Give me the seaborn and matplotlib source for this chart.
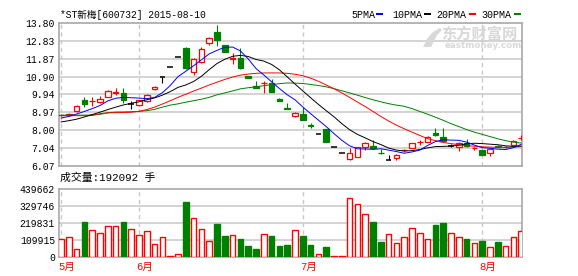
import matplotlib
matplotlib.use("Agg")
import matplotlib.pyplot as plt
from matplotlib.patches import Rectangle, Polygon
import numpy as np
import pandas as pd
import seaborn as sns

sns.set_style("white")
plt.rcParams['font.family'] = ['Liberation Mono', 'Noto Sans CJK SC', 'DejaVu Sans']

# ---------------- data ----------------
opens = [8.80, 8.82, 9.02, 9.62, 9.57, 9.51, 9.80, 10.04, 10.02, 9.42,
         9.37, 9.60, 10.22, 10.89, 11.42, 11.94, 12.43, 11.16, 11.69, 12.74,
         13.34, 12.59, 11.87, 11.89, 10.93, 10.42, 10.55, 10.57, 9.71, 9.19,
         8.75, 8.88, 8.27, 7.80, 8.08, 7.10, 6.78, 6.45, 6.56, 7.09,
         7.16, 6.78, 6.41, 6.49, 6.91, 7.07, 7.35, 7.39, 7.88, 7.66,
         7.17, 7.12, 7.34, 7.02, 6.94, 6.76, 7.17, 7.09, 7.21, 7.60]
highs = [8.90, 8.92, 9.35, 9.80, 9.80, 9.86, 10.20, 10.26, 10.31, 9.60,
         9.64, 9.95, 10.38, 10.89, 11.42, 11.94, 12.48, 11.90, 12.50, 13.05,
         13.68, 12.62, 12.20, 12.47, 10.95, 10.65, 10.65, 10.78, 9.73, 9.48,
         8.98, 9.24, 8.39, 7.80, 8.08, 7.10, 6.78, 7.07, 7.12, 7.37,
         7.48, 6.98, 6.67, 6.70, 7.00, 7.32, 7.45, 7.68, 8.12, 8.12,
         7.25, 7.36, 7.54, 7.08, 6.96, 7.01, 7.20, 7.16, 7.45, 7.72]
lows = [8.75, 8.76, 8.98, 9.26, 9.30, 9.48, 9.78, 9.93, 9.50, 9.15,
        9.30, 9.55, 10.18, 10.57, 11.42, 11.94, 11.32, 11.00, 11.65, 12.60,
        12.54, 12.22, 11.60, 11.30, 10.82, 10.30, 9.99, 10.06, 9.57, 9.15,
        8.72, 8.53, 8.12, 7.80, 7.39, 7.10, 6.78, 6.38, 6.54, 6.94,
        7.01, 6.74, 6.41, 6.38, 6.85, 7.05, 7.22, 7.37, 7.70, 7.40,
        7.10, 6.89, 7.12, 6.95, 6.65, 6.61, 7.08, 7.02, 7.19, 7.50]
closes = [8.84, 8.86, 9.33, 9.44, 9.59, 9.70, 10.11, 10.06, 9.62, 9.42,
          9.62, 9.93, 10.35, 10.89, 11.42, 11.94, 11.36, 11.87, 12.42, 13.01,
          12.88, 12.25, 11.89, 11.36, 10.84, 10.31, 10.57, 10.08, 9.59, 9.15,
          8.94, 8.53, 8.24, 7.80, 7.39, 7.10, 6.78, 6.79, 7.10, 7.30,
          7.03, 6.76, 6.41, 6.67, 6.92, 7.30, 7.36, 7.66, 7.72, 7.43,
          7.17, 7.34, 7.17, 7.03, 6.67, 6.99, 7.10, 7.10, 7.43, 7.61]
volumes = [113500, 126500, 48000, 226000, 172000, 152000, 198000, 198000, 226000, 178000,
           139000, 165000, 81000, 126500, 4500, 15000, 357000, 250000, 180000, 100000,
           213000, 135000, 139000, 115000, 70000, 50000, 146000, 135000, 70000, 76000,
           172000, 135000, 76000, 15000, 63000, 3000, 3000, 381000, 342000, 276000,
           226000, 96000, 146000, 87000, 126500, 185000, 152000, 113500, 207000, 220000,
           152000, 126500, 115000, 87000, 102000, 61000, 94000, 68000, 126500, 166000]
ma5 = [8.66, 8.75, 8.88, 9.02, 9.17, 9.34, 9.59, 9.73, 9.78, 9.76,
       9.74, 9.71, 9.78, 10.03, 10.42, 10.90, 11.19, 11.49, 11.81, 12.13,
       12.32, 12.49, 12.50, 12.29, 11.86, 11.34, 10.99, 10.62, 10.26, 9.92,
       9.65, 9.26, 8.90, 8.55, 8.20, 7.82, 7.46, 7.16, 7.00, 6.99,
       6.97, 7.00, 6.93, 6.85, 6.76, 6.83, 6.93, 7.18, 7.39, 7.49,
       7.47, 7.46, 7.36, 7.20, 7.06, 7.03, 6.98, 6.96, 7.06, 7.24]
ma10 = [8.45, 8.52, 8.60, 8.72, 8.85, 8.98, 9.12, 9.25, 9.37, 9.46,
        9.54, 9.65, 9.75, 9.90, 10.09, 10.32, 10.45, 10.64, 10.92, 11.28,
        11.61, 11.84, 12.00, 12.05, 11.99, 11.83, 11.74, 11.56, 11.27, 10.89,
        10.50, 10.13, 9.76, 9.40, 9.06, 8.73, 8.36, 8.03, 7.78, 7.59,
        7.39, 7.23, 7.04, 6.93, 6.88, 6.90, 6.96, 7.05, 7.12, 7.13,
        7.15, 7.19, 7.27, 7.30, 7.28, 7.25, 7.22, 7.16, 7.13, 7.15]
ma20 = [8.79, 8.79, 8.79, 8.79, 8.80, 8.90, 8.94, 8.95, 8.96, 8.98,
        9.03, 9.12, 9.25, 9.42, 9.60, 9.78, 9.95, 10.12, 10.28, 10.45,
        10.60, 10.75, 10.88, 10.98, 11.04, 11.08, 11.10, 11.10, 11.10, 11.08,
        11.03, 10.95, 10.82, 10.65, 10.45, 10.25, 10.02, 9.78, 9.53, 9.28,
        9.02, 8.75, 8.50, 8.28, 8.08, 7.90, 7.72, 7.55, 7.44, 7.34,
        7.28, 7.22, 7.17, 7.14, 7.11, 7.09, 7.08, 7.08, 7.09, 7.12]
ma30 = [8.82, 8.82, 8.82, 8.82, 8.83, 8.86, 8.95, 8.98, 8.99, 9.00,
        9.02, 9.06, 9.13, 9.25, 9.36, 9.43, 9.52, 9.60, 9.68, 9.78,
        9.92, 10.02, 10.13, 10.24, 10.30, 10.35, 10.41, 10.47, 10.52, 10.56,
        10.55, 10.53, 10.48, 10.42, 10.35, 10.25, 10.14, 10.02, 9.90, 9.77,
        9.65, 9.54, 9.44, 9.36, 9.30, 9.17, 9.02, 8.87, 8.71, 8.54,
        8.36, 8.20, 8.04, 7.90, 7.78, 7.66, 7.54, 7.44, 7.36, 7.31]
month_labels = ['5月', '6月', '7月', '8月']
month_pos = [0, 10, 31, 54]
price_ticks = [6.07, 7.04, 8.00, 8.97, 9.94, 10.90, 11.87, 12.83, 13.80]
price_labels = ['6.07', '7.04', '8.00', '8.97', '9.94', '10.90', '11.87', '12.83', '13.80']
vol_ticks = [0, 109915, 219831, 329746, 439662]
vol_labels = ['0', '109915', '219831', '329746', '439662']
title_text = '*ST新梅[600732] 2015-08-10'
vol_text = '成交量:192092 手'
ma_names = ['5PMA', '10PMA', '20PMA', '30PMA']
ma_colors = ['#0000ff', '#000000', '#ff0000', '#008000']

RED, GREEN, BLACK = '#ff0000', '#008000', '#000000'
GRID = '#c8c8c8'
SPINE = '#a8a8a8'
WM = '#d8d8d8'

# ---------------- figure ----------------
W, H = 578, 276
fig = plt.figure(figsize=(W / 100, H / 100), dpi=100)
fig.patch.set_facecolor('white')


def rect(l, t, r, b):
    return [l / W, 1 - b / H, (r - l) / W, (b - t) / H]


axp = fig.add_axes(rect(58.5, 23, 522, 166))
axv = fig.add_axes(rect(58.5, 189.3, 522, 256.7))

n = len(closes)
x = np.arange(n)
o = np.array(opens); h = np.array(highs); l = np.array(lows); c = np.array(closes)
up = c > o
dn = c < o
eq = c == o
cols = np.where(up, RED, np.where(dn, GREEN, BLACK))

for ax in (axp, axv):
    ax.set_xlim(-0.32, 59.1)
    ax.set_xticks([])
    for p in month_pos:
        ax.axvline(p, color=GRID, lw=1.0, ls=(0, (3, 2.5)), zorder=1)
    for s in ax.spines.values():
        s.set_color(SPINE)
        s.set_linewidth(1.2)
    ax.tick_params(axis='y', length=0, pad=2.5, labelsize=7, labelcolor='black')

# price panel
axp.set_ylim(6.07, 13.80)
axp.set_yticks(price_ticks)
axp.set_yticklabels(price_labels)
for t in price_ticks[1:-1]:
    axp.axhline(t, color=GRID, lw=1.1, zorder=1)

BW = 0.70
axp.vlines(x, l, h, colors=cols, lw=0.8, zorder=3)
axp.bar(x[up], (c - o)[up], bottom=o[up], width=BW, facecolor='white',
        edgecolor=RED, lw=0.9, zorder=4)
axp.bar(x[dn], (o - c)[dn], bottom=c[dn], width=BW, facecolor=GREEN,
        edgecolor=GREEN, lw=0.9, zorder=4)
axp.hlines(o[eq], x[eq] - BW / 2, x[eq] + BW / 2, colors=BLACK, lw=1.1, zorder=4)

ma_df = pd.DataFrame({'idx': np.tile(x, 4),
                      'value': ma5 + ma10 + ma20 + ma30,
                      'ma': np.repeat(ma_names, n)})
sns.lineplot(data=ma_df, x='idx', y='value', hue='ma', hue_order=ma_names[::-1],
             palette=dict(zip(ma_names, ma_colors)), lw=0.7, legend=False,
             ax=axp, zorder=5)
axp.set_xlabel('')
axp.set_ylabel('')
axp.set_xlim(-0.32, 59.1)

# volume panel
vol = np.array(volumes)
vup = c >= o
axv.set_ylim(0, 439662)
axv.set_yticks(vol_ticks)
axv.set_yticklabels(vol_labels)
for t in vol_ticks[1:-1]:
    axv.axhline(t, color=GRID, lw=1.1, zorder=1)
axv.bar(x[vup], vol[vup], width=0.72, facecolor='white', edgecolor=RED, lw=1.0, zorder=3)
axv.bar(x[~vup], vol[~vup], width=0.72, facecolor=GREEN, edgecolor=GREEN, lw=1.0, zorder=3)

for lab, p in zip(month_labels, month_pos):
    axv.text(p - 0.38, -0.15, lab, transform=axv.get_xaxis_transform(),
             color=RED, fontsize=7.6, ha='left', va='center')

# texts
fig.text(60.5 / W, 1 - 14.5 / H, title_text, fontsize=6.9, ha='left', va='center', color='black')
fig.text(59.5 / W, 1 - 177.5 / H, vol_text, fontsize=7.8, ha='left', va='center', color='black')

leg_x = [351, 392, 436.3, 481.3]
dash_x = [376.3, 424, 469, 514]
for name, col, tx, dx in zip(ma_names, ma_colors, leg_x, dash_x):
    fig.text(tx / W, 1 - 14.5 / H, name, fontsize=7.2, ha='left', va='center', color='black')
    fig.patches.append(Rectangle((dx / W, 1 - 15.2 / H), 6.5 / W, 2.6 / H,
                                 transform=fig.transFigure, facecolor=col,
                                 edgecolor='none'))

# watermark (logo swoosh + text)
logo_pts = [(423, 47), (427, 39), (433, 32), (440, 28), (442, 30),
            (437, 35), (434, 41), (431, 47)]
fig.patches.append(Polygon([(px / W, 1 - py / H) for px, py in logo_pts], closed=True,
                           transform=fig.transFigure, facecolor=WM, edgecolor='none'))
fig.text(441 / W, 1 - 33.5 / H, '东方财富网', fontsize=11, fontweight='bold',
         family=['Noto Sans CJK SC'], color=WM, ha='left', va='center')
fig.text(444.5 / W, 1 - 46 / H, 'eastmoney.com', fontsize=6.3, fontweight='bold',
         family=['DejaVu Sans'], color=WM, ha='left', va='center')

fig.savefig('out.png', dpi=100, facecolor='white')
